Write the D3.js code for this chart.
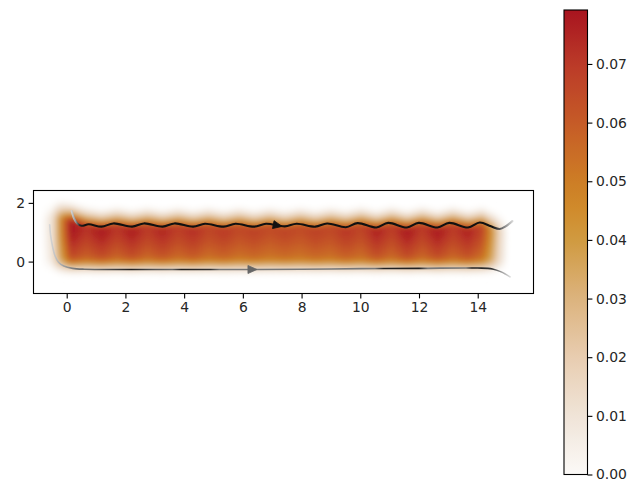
<!DOCTYPE html>
<html>
<head>
<meta charset="utf-8">
<script src="https://cdn.jsdelivr.net/npm/d3@7"></script>
<style>
  body { margin: 0; background: #fff; }
  text { font-family: "DejaVu Sans", sans-serif; font-size: 13.9px; fill: #262626; }
</style>
</head>
<body>
<div id="chart"></div>
<script>
// density band, read column by column: x position, peak value, top edge of the full band
const colX    = [-0.9, -0.5, -0.2, 0.15, 0.67, 1.19, 1.71, 2.23, 2.75, 3.27, 3.79, 4.31, 4.83, 5.35, 5.87, 6.39, 6.91, 7.43, 7.95, 8.47, 8.99, 9.51, 10.03, 10.55, 11.07, 11.59, 12.11, 12.63, 13.15, 13.67, 14.15, 14.45, 14.75, 15.05];
const colPeak = [0, 0.01, 0.045, 0.079, 0.071, 0.078, 0.07, 0.077, 0.069, 0.075, 0.068, 0.073, 0.066, 0.07, 0.065, 0.068, 0.064, 0.067, 0.064, 0.068, 0.065, 0.071, 0.066, 0.076, 0.068, 0.078, 0.069, 0.078, 0.069, 0.076, 0.066, 0.045, 0.015, 0];
const colTop  = [1.4, 1.45, 1.45, 1.35, 1.2, 1.1, 1.2, 1.1, 1.2, 1.1, 1.2, 1.1, 1.2, 1.1, 1.2, 1.1, 1.2, 1.1, 1.2, 1.1, 1.2, 1.1, 1.22, 1.08, 1.22, 1.08, 1.22, 1.08, 1.22, 1.08, 1.2, 1.1, 1.05, 1.0];
// vertical fall-off: below (absolute y) and above the band top (distance)
const lowY    = [-0.6, -0.45, -0.3, -0.2, -0.1, 0, 0.15, 0.4, 0.7, 1.0];
const lowFrac = [0, 0.03, 0.14, 0.3, 0.5, 0.68, 0.82, 0.88, 0.95, 1];
const topD    = [0, 0.15, 0.3, 0.45, 0.6, 0.8];
const topFrac = [1, 0.75, 0.45, 0.2, 0.06, 0];

// streamlines
const upperLine = [[0.17,1.72],[0.25,1.47],[0.36,1.3],[0.5,1.22],[0.75,1.27],[1.19,1.19],[1.59,1.3],[2.23,1.19],[2.63,1.3],[3.27,1.19],[3.67,1.3],[4.31,1.19],[4.71,1.29],[5.35,1.19],[5.75,1.29],[6.39,1.19],[6.79,1.29],[7.43,1.2],[7.83,1.29],[8.47,1.19],[8.87,1.3],[9.51,1.17],[9.91,1.31],[10.55,1.16],[10.95,1.32],[11.59,1.16],[11.99,1.32],[12.63,1.16],[13.03,1.32],[13.67,1.16],[14.07,1.33],[14.45,1.2],[14.75,1.11],[14.95,1.2],[15.18,1.38]];
const lowerLine = [[-0.58,1.25],[-0.55,0.9],[-0.48,0.5],[-0.4,0.2],[-0.28,-0.02],[-0.1,-0.15],[0.2,-0.23],[0.6,-0.26],[2,-0.27],[4,-0.27],[6,-0.27],[8,-0.26],[10,-0.24],[12,-0.23],[14,-0.22],[14.5,-0.25],[14.8,-0.35],[15.1,-0.52]];
const upperShade = [[0.17,"#cfcfcf"],[0.3,"#999"],[0.45,"#222"],[0.6,"#111"],[14.5,"#111"],[14.8,"#666"],[15.18,"#d4d4d4"]];
const lowerShade = [[-0.58,"#d6d6d6"],[-0.4,"#c4c4c4"],[-0.1,"#a0a0a0"],[0.3,"#777"],[1.0,"#666"],[1.6,"#444"],[2.2,"#222"],[3.0,"#555"],[3.6,"#666"],[3.9,"#222"],[4.9,"#333"],[5.2,"#777"],[10.5,"#777"],[10.8,"#222"],[12.0,"#222"],[12.3,"#777"],[13.6,"#777"],[13.8,"#222"],[14.5,"#333"],[14.8,"#999"],[15.1,"#d8d8d8"]];
const upperArrowX = 7.17, lowerArrowX = 6.31;

// ticks and colour map
const xTicks = [0, 2, 4, 6, 8, 10, 12, 14];
const yTicks = [0, 2];
const cbTicks = [0, 0.01, 0.02, 0.03, 0.04, 0.05, 0.06, 0.07];
const cbMax = 0.0792;
const cmapStops  = [0, 0.01, 0.02, 0.03, 0.04, 0.045, 0.05, 0.06, 0.07, 0.0792];
const cmapColors = ["#fbf9f7", "#f0e4d8", "#e8cdb0", "#dcb37e", "#d09a40", "#d08c2c", "#cd7d25", "#c65b27", "#bb3a28", "#a8141f"];

const width = 643, height = 485;
const plot = { left: 33.5, right: 533.5, top: 190.5, bottom: 293.5 };
const cb = { left: 564, right: 587.5, top: 10, bottom: 474.5 };

const x = d3.scaleLinear().domain([-1.131, 15.90]).range([plot.left, plot.right]);
const y = d3.scaleLinear().domain([-1.087, 2.422]).range([plot.bottom, plot.top]);
const cmap = d3.scaleLinear().domain(cmapStops).range(cmapColors).interpolate(d3.interpolateRgb).clamp(true);

const peakAt = d3.scaleLinear().domain(colX).range(colPeak).clamp(true);
const topAt = d3.scaleLinear().domain(colX).range(colTop).clamp(true);
const lowAt = d3.scaleLinear().domain(lowY).range(lowFrac).clamp(true);
const aboveAt = d3.scaleLinear().domain(topD).range(topFrac).clamp(true);

const svg = d3.select("#chart").append("svg")
  .attr("width", width)
  .attr("height", height);

const defs = svg.append("defs");
defs.append("clipPath").attr("id", "plotclip")
  .append("rect")
  .attr("x", plot.left).attr("y", plot.top)
  .attr("width", plot.right - plot.left).attr("height", plot.bottom - plot.top);
defs.append("filter").attr("id", "soft")
  .attr("x", "-5%").attr("y", "-20%").attr("width", "110%").attr("height", "140%")
  .append("feGaussianBlur").attr("stdDeviation", 2.6);

// density image (near-zero values left see-through so the axes stay white)
const W = Math.round(plot.right - plot.left), H = Math.round(plot.bottom - plot.top);
const canvas = document.createElement("canvas");
canvas.width = W; canvas.height = H;
const ctx = canvas.getContext("2d");
const img = ctx.createImageData(W, H);
for (let j = 0; j < H; j++) {
  const yv = y.invert(plot.top + j + 0.5);
  for (let i = 0; i < W; i++) {
    const xv = x.invert(plot.left + i + 0.5);
    const frac = Math.min(lowAt(yv), aboveAt(yv - topAt(xv)));
    const v = peakAt(xv) * frac;
    const c = d3.rgb(cmap(v));
    const k = (j * W + i) * 4;
    img.data[k] = c.r; img.data[k + 1] = c.g; img.data[k + 2] = c.b;
    img.data[k + 3] = Math.round(255 * Math.min(1, v / 0.006));
  }
}
ctx.putImageData(img, 0, 0);

const plotG = svg.append("g").attr("clip-path", "url(#plotclip)");
plotG.append("image")
  .attr("href", canvas.toDataURL())
  .attr("x", plot.left).attr("y", plot.top)
  .attr("width", W).attr("height", H)
  .attr("preserveAspectRatio", "none")
  .attr("filter", "url(#soft)");

// streamlines with shaded strokes
const line = d3.line().x(d => x(d[0])).y(d => y(d[1])).curve(d3.curveCatmullRom);

function shadeGradient(id, shade) {
  const x0 = x(shade[0][0]), x1 = x(shade[shade.length - 1][0]);
  const g = defs.append("linearGradient").attr("id", id)
    .attr("gradientUnits", "userSpaceOnUse")
    .attr("x1", x0).attr("x2", x1).attr("y1", 0).attr("y2", 0);
  g.selectAll("stop").data(shade).enter().append("stop")
    .attr("offset", d => (x(d[0]) - x0) / (x1 - x0))
    .attr("stop-color", d => d[1]);
}
shadeGradient("upperShade", upperShade);
shadeGradient("lowerShade", lowerShade);

function pointAtX(node, px) {
  let lo = 0, hi = node.getTotalLength();
  for (let n = 0; n < 40; n++) {
    const mid = (lo + hi) / 2;
    if (node.getPointAtLength(mid).x < px) lo = mid; else hi = mid;
  }
  const p = node.getPointAtLength(lo), q = node.getPointAtLength(Math.min(lo + 2, node.getTotalLength()));
  return { x: p.x, y: p.y, a: Math.atan2(q.y - p.y, q.x - p.x) * 180 / Math.PI };
}

function drawStream(points, gradId, lineW, arrowX, arrowColor) {
  const path = plotG.append("path")
    .attr("d", line(points))
    .attr("fill", "none")
    .attr("stroke", "url(#" + gradId + ")")
    .attr("stroke-width", lineW)
    .attr("stroke-linecap", "round");
  const p = pointAtX(path.node(), x(arrowX));
  plotG.append("path")
    .attr("d", "M-4,-4L5,0L-4,4Z")
    .attr("transform", "translate(" + p.x + "," + p.y + ") rotate(" + p.a + ")")
    .attr("fill", arrowColor)
    .attr("stroke", arrowColor)
    .attr("stroke-width", 0.8);
}
drawStream(upperLine, "upperShade", 2.1, upperArrowX, "#111");
drawStream(lowerLine, "lowerShade", 1.6, lowerArrowX, "#666");

// axes
const xAxis = svg.append("g")
  .attr("transform", "translate(0," + plot.bottom + ")")
  .call(d3.axisBottom(x).tickValues(xTicks).tickSize(4.9).tickPadding(3.5).tickFormat(d3.format("d")));
const yAxis = svg.append("g")
  .attr("transform", "translate(" + plot.left + ",0)")
  .call(d3.axisLeft(y).tickValues(yTicks).tickSize(4.9).tickPadding(3.5).tickFormat(d3.format("d")));
[xAxis, yAxis].forEach(a => {
  a.select(".domain").remove();
  a.selectAll(".tick line").attr("stroke", "#000").attr("stroke-width", 1.1);
  a.selectAll(".tick text").attr("font-size", null).attr("font-family", null).attr("fill", "#262626");
});
svg.append("rect")
  .attr("x", plot.left).attr("y", plot.top)
  .attr("width", plot.right - plot.left).attr("height", plot.bottom - plot.top)
  .attr("fill", "none").attr("stroke", "#000").attr("stroke-width", 1.1);

// colour bar
const cbScale = d3.scaleLinear().domain([0, cbMax]).range([cb.bottom, cb.top]);
const grad = defs.append("linearGradient").attr("id", "cbgrad")
  .attr("x1", 0).attr("x2", 0).attr("y1", 1).attr("y2", 0);
grad.selectAll("stop").data(d3.range(0, 41).map(k => k / 40)).enter().append("stop")
  .attr("offset", d => d)
  .attr("stop-color", d => cmap(d * cbMax));
svg.append("rect")
  .attr("x", cb.left).attr("y", cb.top)
  .attr("width", cb.right - cb.left).attr("height", cb.bottom - cb.top)
  .attr("fill", "url(#cbgrad)")
  .attr("stroke", "#000").attr("stroke-width", 1.1);
const cbAxis = svg.append("g")
  .attr("transform", "translate(" + cb.right + ",0)")
  .call(d3.axisRight(cbScale).tickValues(cbTicks).tickSize(4.9).tickPadding(3.5).tickFormat(d3.format(".2f")));
cbAxis.select(".domain").remove();
cbAxis.selectAll(".tick line").attr("stroke", "#000").attr("stroke-width", 1.1);
cbAxis.selectAll(".tick text").attr("font-size", null).attr("font-family", null).attr("fill", "#262626");
</script>
</body>
</html>
